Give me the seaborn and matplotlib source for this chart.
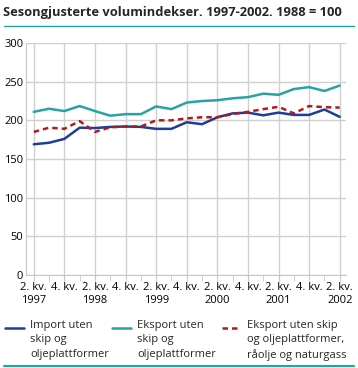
import numpy as np
import pandas as pd
import matplotlib
matplotlib.use("Agg")
import matplotlib.pyplot as plt
import seaborn as sns

# kvartaler 2. kv. 1997 - 2. kv. 2002
kvartal = list(range(21))
tick_labels = ["2. kv.\n1997", "4. kv.", "2. kv.\n1998", "4. kv.", "2. kv.\n1999", "4. kv.",
               "2. kv.\n2000", "4. kv.", "2. kv.\n2001", "4. kv.", "2. kv.\n2002"]

import_uten = [169, 171, 176, 190.5, 190, 191.5, 192, 191.5, 189, 189, 197.5,
               195, 204, 209, 210, 206.5, 210, 207, 207, 214, 204.5]
eksport_uten = [211, 215, 212, 218.5, 212, 206, 208, 208, 218, 214.5, 223,
                225, 226, 228.5, 230, 234.5, 233, 240.5, 243, 238, 245]
eksport_uten_olje = [185, 190.5, 189, 199, 185, 191, 192, 192, 200, 200, 202.5,
                     204, 204, 208, 211, 214.5, 217.5, 209, 218.5, 217, 216.5]

serie_navn = ["Import uten\nskip og\noljeplattformer",
              "Eksport uten\nskip og\noljeplattformer",
              "Eksport uten skip\nog oljeplattformer,\nråolje og naturgass"]
farger = ["#1f3c98", "#27a3a3", "#b01c1c"]
strek = ["-", "-", (0, (2.2, 1.6))]

df = pd.DataFrame({"kvartal": kvartal * 3,
                   "verdi": import_uten + eksport_uten + eksport_uten_olje,
                   "serie": [serie_navn[0]] * 21 + [serie_navn[1]] * 21 + [serie_navn[2]] * 21})

sns.set_style("white")
plt.rcParams["font.family"] = ["Open Sans", "DejaVu Sans"]

W, H = 358, 368
fig = plt.figure(figsize=(W / 100, H / 100), dpi=100)
ax = fig.add_axes([0.073, 0.253, 0.893, 0.63])

sns.lineplot(data=df, x="kvartal", y="verdi", hue="serie", style="serie",
             palette=farger, dashes=[(None, None), (None, None), (2.2, 1.6)],
             linewidth=1.8, ax=ax, legend=False)

ax.set_xlim(-0.5, 20.4)
ax.set_ylim(0, 300)
ax.set_yticks(range(0, 301, 50))
ax.set_xticks(range(0, 21, 2))
ax.set_xticklabels(tick_labels)
ax.set_xticks(range(1, 21, 2), minor=True)
ax.set_xlabel("")
ax.set_ylabel("")
ax.grid(True, which="major", color="#d0d0d0", linewidth=1)
ax.set_axisbelow(True)
for s in ["top", "right"]:
    ax.spines[s].set_visible(False)
ax.spines["left"].set_color("#c8c8c8")
ax.spines["bottom"].set_color("#c8c8c8")
ax.tick_params(axis="both", labelsize=8, colors="#000000", pad=1)
ax.tick_params(axis="x", which="both", length=4, color="#c8c8c8", direction="out", bottom=True)
ax.tick_params(axis="y", length=0, pad=2)
for t in ax.get_xticklabels():
    t.set_linespacing(1.3)

fig.text(0.008, 0.965, "Sesongjusterte volumindekser. 1997-2002. 1988 = 100",
         fontsize=9.3, fontweight="bold", va="center")
fig.add_artist(plt.Line2D([0.01, 0.99], [0.929, 0.929], color="#27a3a3", linewidth=1))
fig.add_artist(plt.Line2D([0.01, 0.99], [0.006, 0.006], color="#27a3a3", linewidth=1.5))

# forklaring under figuren
leg_x = [5, 112, 222]
for navn, farge, ls, x0 in zip(serie_navn, farger, strek, leg_x):
    fig.add_artist(plt.Line2D([x0 / W, (x0 + 19) / W], [1 - 328 / H, 1 - 328 / H],
                              color=farge, linewidth=1.8, linestyle=ls))
    fig.text((x0 + 25) / W, 1 - 320 / H, navn, fontsize=8, va="top", ha="left",
             linespacing=1.42)

fig.savefig("out.png", dpi=100)
